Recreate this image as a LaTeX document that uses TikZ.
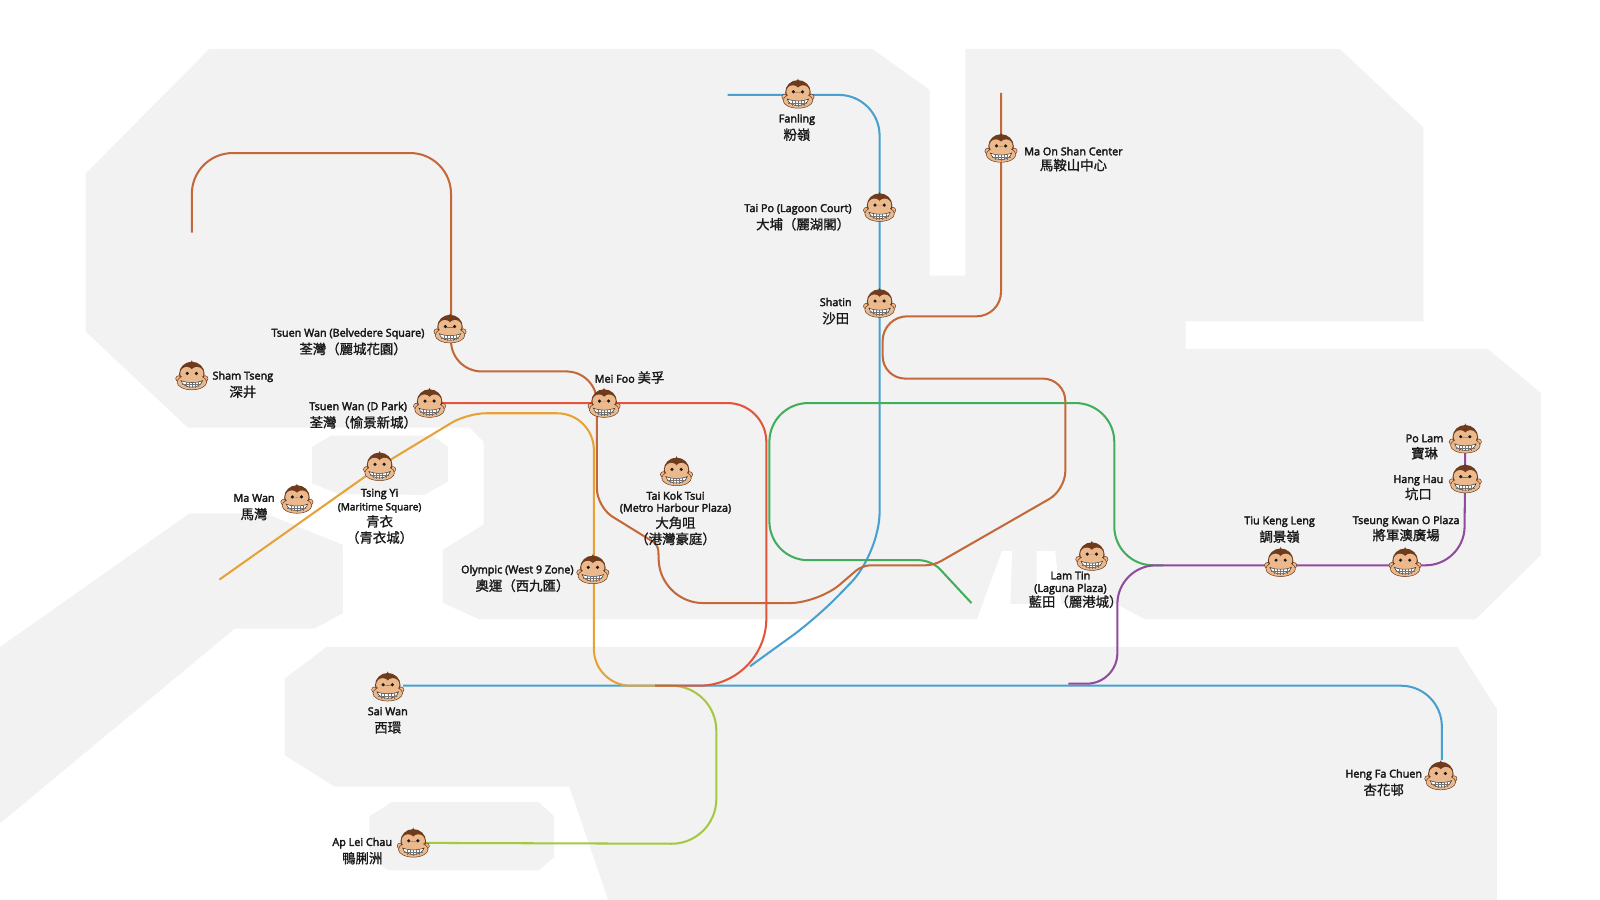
\documentclass[tikz,border=0pt]{standalone}
\usepackage{fontspec}
\setmainfont{Open Sans}[UprightFeatures={FakeBold=3}]
\newfontfamily\cjk{Noto Sans CJK TC}[FakeBold=1.2,Scale=1.24]
\usetikzlibrary{positioning}

\definecolor{landgrey}{HTML}{F2F2F2}
\definecolor{brownline}{HTML}{C4683A}
\definecolor{blueline}{HTML}{48A0D0}
\definecolor{redline}{HTML}{E2553A}
\definecolor{orangeline}{HTML}{E6A236}
\definecolor{limeline}{HTML}{A6C83F}
\definecolor{greenline}{HTML}{42AE5C}
\definecolor{purpleline}{HTML}{8F4C9E}
\definecolor{monkeyfur}{HTML}{6E3B1C}
\definecolor{monkeyskin}{HTML}{EBB98C}

\tikzset{
  land/.style={fill=landgrey,draw=none},
  gap/.style={fill=white,draw=none},
  route/.style={line width=1pt,line join=round},
  stationtext/.style={align=center,inner sep=0pt,text=black!90,
    font=\fontsize{5.3}{8.5}\selectfont},
  monkey/.pic={
    \draw[fill=monkeyskin,draw=monkeyfur,line width=0.25pt] (-13,3) circle (2.8);
    \draw[fill=monkeyskin,draw=monkeyfur,line width=0.25pt] (13,3) circle (2.8);
    \fill[monkeyfur] (-1.2,-12) -- (0,-15) -- (1.2,-12) -- cycle;
    \fill[monkeyfur] (0,-1.5) ellipse (12.5 and 12);
    \fill[monkeyskin] (-5,-2) circle (6.4);
    \fill[monkeyskin] (5,-2) circle (6.4);
    \draw[fill=monkeyskin,draw=monkeyfur,line width=0.25pt] (0,6.5) ellipse (14.5 and 7.5);
    \fill[monkeyskin] (-10,2) rectangle (10,-1);
    \draw[fill=white,draw=black!80,line width=0.25pt] (-10.5,5) .. controls (-5,7.5) and (5,7.5) .. (10.5,5)
      .. controls (8.5,13.5) and (-8.5,13.5) .. cycle;
    \draw[black!55,line width=0.2pt] (-9.3,9) -- (9.3,9);
    \draw[black!55,line width=0.2pt] (-6,6.4) -- (-6,11.6);
    \draw[black!55,line width=0.2pt] (-3,6.8) -- (-3,12.2);
    \draw[black!55,line width=0.2pt] (0,6.9) -- (0,12.4);
    \draw[black!55,line width=0.2pt] (3,6.8) -- (3,12.2);
    \draw[black!55,line width=0.2pt] (6,6.4) -- (6,11.6);
    \fill[black!90] (-4.5,-2) circle (1.7);
    \fill[black!90] (4.5,-2) circle (1.7);
  }
}

\begin{document}
\begin{tikzpicture}[x=0.5pt,y=-0.5pt]

  \useasboundingbox (0,0) rectangle (1568,882);

  % land
  \fill[land] (205,48) -- (855,48) -- (911,88) -- (911,270) -- (946,270) -- (946,48) -- (1313,48)
    -- (1395,125) -- (1395,315) -- (1162,315) -- (1162,342) -- (1458,342) -- (1510,385)
    -- (1510,544) -- (1446,607) -- (470,607) -- (434,591) -- (434,539) -- (474,514) -- (474,433)
    -- (460,419) -- (184,419) -- (84,325) -- (84,170) -- cycle;
  \fill[land] (306,438) -- (324,427) -- (424,427) -- (439,438) -- (439,472) -- (416,485)
    -- (332,484) -- (306,474) -- cycle;
  \fill[land] (0,634) -- (186,503) -- (260,503) -- (336,534) -- (336,601) -- (308,616)
    -- (230,616) -- (0,807) -- cycle;
  \fill[land] (320,634) -- (1428,634) -- (1467,695) -- (1467,882) -- (596,882) -- (558,771)
    -- (328,771) -- (279,740) -- (279,665) -- cycle;
  \fill[land] (362,800) -- (384,786) -- (528,786) -- (543,800) -- (543,840) -- (528,853)
    -- (380,853) -- (362,840) -- cycle;
  \fill[gap] (957,608) -- (982,540) -- (992,540) -- (990,592) -- (1016,592) -- (1016,540)
    -- (1034,540) -- (1040,592) -- (1094,592) -- (1124,608) -- cycle;

  % stations
  \coordinate (fanling) at (782,92);
  \coordinate (maOnShan) at (981,145);
  \coordinate (taiPo) at (862,203);
  \coordinate (shatin) at (862,297);
  \coordinate (tsuenWanB) at (441,322);
  \coordinate (shamTseng) at (188,368);
  \coordinate (tsuenWanD) at (421,395);
  \coordinate (meiFoo) at (592,395);
  \coordinate (tsingYi) at (372,457);
  \coordinate (maWan) at (291,489);
  \coordinate (taiKokTsui) at (663,462);
  \coordinate (olympic) at (581,558);
  \coordinate (lamTin) at (1070,545);
  \coordinate (tiuKengLeng) at (1255,551);
  \coordinate (tseungKwanO) at (1377,551);
  \coordinate (poLam) at (1436,430);
  \coordinate (hangHau) at (1436,469);
  \coordinate (saiWan) at (380,673);
  \coordinate (hengFaChuen) at (1412,760);
  \coordinate (apLeiChau) at (405,826);

  % bends and line ends
  \coordinate (blueStart) at (713,93);
  \coordinate (blueTop) at (862,93);
  \coordinate (blueBend) at (862,542);
  \coordinate (blueMid) at (800,606);
  \coordinate (blueJoin) at (735,653);
  \coordinate (blueEast) at (1413,672);
  \coordinate (blueWest) at (395,672);
  \coordinate (blueSouth) at (1413,745);
  \coordinate (central) at (642,672);
  \coordinate (brownNorth) at (981,91);
  \coordinate (brownA) at (981,310);
  \coordinate (brownB) at (865,310);
  \coordinate (brownC) at (865,371);
  \coordinate (brownD) at (1044,371);
  \coordinate (brownE) at (1044,480);
  \coordinate (brownF) at (915,554);
  \coordinate (brownG) at (845,554);
  \coordinate (brownH) at (802,591);
  \coordinate (brownI) at (647,591);
  \coordinate (brownJ) at (645,534);
  \coordinate (brownK) at (585,497);
  \coordinate (brownL) at (585,364);
  \coordinate (brownM) at (442,364);
  \coordinate (brownN) at (442,150);
  \coordinate (brownO) at (188,150);
  \coordinate (brownEnd) at (188,228);
  \coordinate (redA) at (751,395);
  \coordinate (redB) at (751,672);
  \coordinate (orangeEnd) at (215,568);
  \coordinate (orangeA) at (458,405);
  \coordinate (orangeB) at (582,405);
  \coordinate (orangeC) at (582,672);
  \coordinate (limeA) at (702,672);
  \coordinate (limeB) at (702,827);
  \coordinate (greenEnd) at (952,591);
  \coordinate (greenA) at (913,549);
  \coordinate (greenB) at (754,549);
  \coordinate (greenC) at (754,395);
  \coordinate (greenD) at (1092,395);
  \coordinate (greenE) at (1092,554);
  \coordinate (greenF) at (1140,554);
  \coordinate (purpleEnd) at (1047,670);
  \coordinate (purpleA) at (1095,670);
  \coordinate (purpleB) at (1095,554);
  \coordinate (purpleC) at (1435,554);

  % lines
  \draw[route,blueline,rounded corners=20pt] (blueStart) -- (blueTop)
    -- (blueBend) [rounded corners=15pt] -- (blueMid) -- (blueJoin);
  \draw[route,blueline,rounded corners=20pt] (blueWest) -- (blueEast) -- (blueSouth);
  \draw[route,greenline,rounded corners=6pt] (greenEnd) -- (greenA)
    [rounded corners=19pt] -- (greenB) -- (greenC) -- (greenD) -- (greenE) -- (greenF);
  \draw[route,purpleline,rounded corners=15pt] (purpleEnd) -- (purpleA)
    [rounded corners=19pt] -- (purpleB) -- (purpleC) -- (poLam);
  \draw[route,brownline,rounded corners=12pt] (brownNorth) -- (brownA) -- (brownB)
    [rounded corners=11pt] -- (brownC) -- (brownD)
    [rounded corners=9pt] -- (brownE)
    [rounded corners=4pt] -- (brownF) -- (brownG)
    [rounded corners=14pt] -- (brownH)
    [rounded corners=21pt] -- (brownI)
    [rounded corners=3pt] -- (brownJ)
    [rounded corners=9pt] -- (brownK)
    [rounded corners=15pt] -- (brownL) -- (brownM)
    [rounded corners=20pt] -- (brownN) -- (brownO) -- (brownEnd);
  \draw[route,limeline,rounded corners=22pt] (central) -- (limeA) -- (limeB) -- (apLeiChau);
  \draw[route,orangeline,rounded corners=9pt] (orangeEnd) -- (tsingYi) -- (orangeA)
    [rounded corners=18pt] -- (orangeB) -- (orangeC) -- (central);
  \draw[route,redline,rounded corners=19pt] (tsuenWanD) -- (redA)
    [rounded corners=33pt] -- (redB) -- (central);

  % monkeys
  \pic at (fanling) {monkey};
  \pic at (maOnShan) {monkey};
  \pic at (taiPo) {monkey};
  \pic at (shatin) {monkey};
  \pic at (tsuenWanB) {monkey};
  \pic at (shamTseng) {monkey};
  \pic at (tsuenWanD) {monkey};
  \pic at (meiFoo) {monkey};
  \pic at (tsingYi) {monkey};
  \pic at (maWan) {monkey};
  \pic at (taiKokTsui) {monkey};
  \pic at (olympic) {monkey};
  \pic at (lamTin) {monkey};
  \pic at (tiuKengLeng) {monkey};
  \pic at (tseungKwanO) {monkey};
  \pic at (poLam) {monkey};
  \pic at (hangHau) {monkey};
  \pic at (saiWan) {monkey};
  \pic at (hengFaChuen) {monkey};
  \pic at (apLeiChau) {monkey};

  % names
  \node[stationtext] (fanlingText) at (781,125) {Fanling\\{\cjk 粉嶺}};
  \node[stationtext] (maOnShanText) at (1052,156) {Ma On Shan Center\\[-1.2pt]{\cjk 馬鞍山中心}};
  \node[stationtext] (taiPoText) at (782,213) {Tai Po (Lagoon Court)\\{\hspace{5pt}\cjk 大埔（麗湖閣）}};
  \node[stationtext] (shatinText) at (819,305) {Shatin\\{\cjk 沙田}};
  \node[stationtext] (tsuenWanBText) at (341,335) {Tsuen Wan (Belvedere Square)\\{\hspace{5pt}\cjk 荃灣（麗城花園）}};
  \node[stationtext] (shamTsengText) at (238,377) {Sham Tseng\\{\cjk 深井}};
  \node[stationtext] (tsuenWanDText) at (351,407) {Tsuen Wan (D Park)\\{\hspace{5pt}\cjk 荃灣（愉景新城）}};
  \node[stationtext] (meiFooText) at (617,370) {Mei Foo {\cjk 美孚}};
  \node[stationtext] (tsingYiText) at (372,506) {Tsing Yi\\[-1.8pt]{\fontsize{4.9}{8.5}\selectfont (Maritime Square)}\\[-0.6pt]{\cjk 青衣}\\[-0.6pt]{\cjk （青衣城）}};
  \node[stationtext] (maWanText) at (249,497) {Ma Wan\\{\cjk 馬灣}};
  \node[stationtext] (taiKokTsuiText) at (662,508) {Tai Kok Tsui\\[-2.6pt](Metro Harbour Plaza)\\[-0.6pt]{\cjk 大角咀}\\[-0.6pt]{\cjk （港灣豪庭）}};
  \node[stationtext] (olympicText) at (507,567) {Olympic (West 9 Zone)\\{\hspace{5pt}\cjk 奧運（西九匯）}};
  \node[stationtext] (lamTinText) at (1049,578) {Lam Tin\\[-2.4pt](Laguna Plaza)\\[-1.2pt]{\hspace{5pt}\cjk 藍田（麗港城）}};
  \node[stationtext] (tiuKengLengText) at (1254,519) {Tiu Keng Leng\\{\cjk 調景嶺}};
  \node[stationtext] (tseungKwanOText) at (1378,518) {Tseung Kwan O Plaza\\[-0.6pt]{\cjk 將軍澳廣場}};
  \node[stationtext] (poLamText) at (1396,438) {Po Lam\\[-0.6pt]{\cjk 寶琳}};
  \node[stationtext] (hangHauText) at (1390,478) {Hang Hau\\[-0.6pt]{\cjk 坑口}};
  \node[stationtext] (saiWanText) at (380,706) {Sai Wan\\{\cjk 西環}};
  \node[stationtext] (hengFaChuenText) at (1356,767) {Heng Fa Chuen\\{\cjk 杏花邨}};
  \node[stationtext] (apLeiChauText) at (355,834) {Ap Lei Chau\\{\cjk 鴨脷洲}};

\end{tikzpicture}
\end{document}
